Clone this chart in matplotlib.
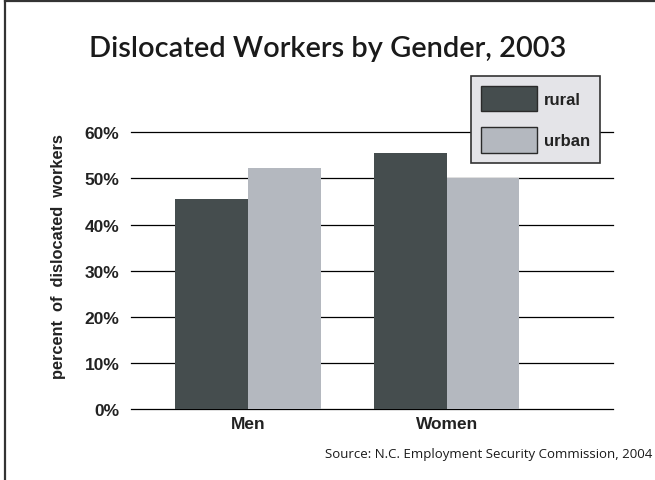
import matplotlib
matplotlib.use("Agg")
import matplotlib.pyplot as plt
import matplotlib.patches as mpatches
from matplotlib.lines import Line2D
import numpy as np

# Data
genders = ["Men", "Women"]
series = ["rural", "urban"]
rural = [45.5, 55.5]
urban = [52.3, 50.0]
y_ticks = [0, 10, 20, 30, 40, 50, 60]
y_tick_labels = ["0%", "10%", "20%", "30%", "40%", "50%", "60%"]

rural_color = "#454d4e"
urban_color = "#b4b8bf"

W, H = 655, 481
fig = plt.figure(figsize=(W / 100, H / 100), dpi=100)
fig.patch.set_facecolor("white")

# axes placed by pixel extents
left_px, right_px = 130.7, 612.7
bottom_px, top_px = 410.0, 133.3
ax = fig.add_axes([left_px / W, 1 - bottom_px / H,
                   (right_px - left_px) / W, (bottom_px - top_px) / H])

x = np.arange(len(genders))
bw = 0.365
ax.bar(x - bw / 2, rural, bw, color=rural_color, zorder=3, linewidth=0)
ax.bar(x + bw / 2, urban, bw, color=urban_color, zorder=3, linewidth=0)

ax.set_xlim(-0.59, 1.835)
ax.set_ylim(0, 60)

# horizontal rules at each tick
for t in y_ticks:
    ax.axhline(t, color="black", lw=0.9, zorder=1, clip_on=False)

for s in ax.spines.values():
    s.set_visible(False)
ax.set_facecolor("none")

ax.set_yticks(y_ticks)
ax.set_yticklabels(y_tick_labels, fontsize=12.5, fontweight="bold",
                   family="Liberation Sans", color="#222222")
ax.set_xticks(x)
ax.set_xticklabels(genders, fontsize=12.5, fontweight="bold",
                   family="Liberation Sans", color="#222222")
ax.tick_params(axis="y", length=0, pad=8)
ax.tick_params(axis="x", length=0, pad=5)

# y-axis title
fig.text(58.5 / W, 1 - 257 / H, "percent  of  dislocated  workers",
         rotation=90, ha="center", va="center", fontsize=11.8,
         fontweight="bold", family="Liberation Sans", color="#222222")

# chart title
fig.text(0.5, 1 - 56.5 / H, "Dislocated Workers by Gender, 2003",
         ha="center", va="baseline", fontsize=20.9, family="Lato",
         fontweight="semibold", color="#1a1a1a")

# source note
fig.text(652 / W, 1 - 455 / H,
         "Source: N.C. Employment Security Commission, 2004",
         ha="right", va="center", fontsize=9.5, family="Open Sans",
         color="#1a1a1a")

# legend
handles = [mpatches.Patch(facecolor=rural_color, edgecolor="#2a2a2a", lw=1.0),
           mpatches.Patch(facecolor=urban_color, edgecolor="#2a2a2a", lw=1.0)]
leg = fig.legend(handles, series, loc="upper left",
                 bbox_to_anchor=(470.7 / W, 1 - 76.5 / H),
                 prop={"family": "Liberation Sans", "weight": "bold", "size": 12},
                 handlelength=3.4, handleheight=2.0, labelspacing=0.95,
                 borderpad=0.6, handletextpad=0.4, borderaxespad=0,
                 fancybox=False, framealpha=1)
leg.get_frame().set_facecolor("#e4e4e8")
leg.get_frame().set_edgecolor("#333333")
leg.get_frame().set_linewidth(1.2)
for t in leg.get_texts():
    t.set_color("#222222")

# outer frame lines (top and left)
fig.add_artist(Line2D([5 / W, 1.0], [1 - 2 / H, 1 - 2 / H],
                      color="#333333", lw=1.6, transform=fig.transFigure))
fig.add_artist(Line2D([5 / W, 5 / W], [0, 1 - 2 / H],
                      color="#333333", lw=1.6, transform=fig.transFigure))

fig.savefig("out.png", dpi=100, facecolor="white")
